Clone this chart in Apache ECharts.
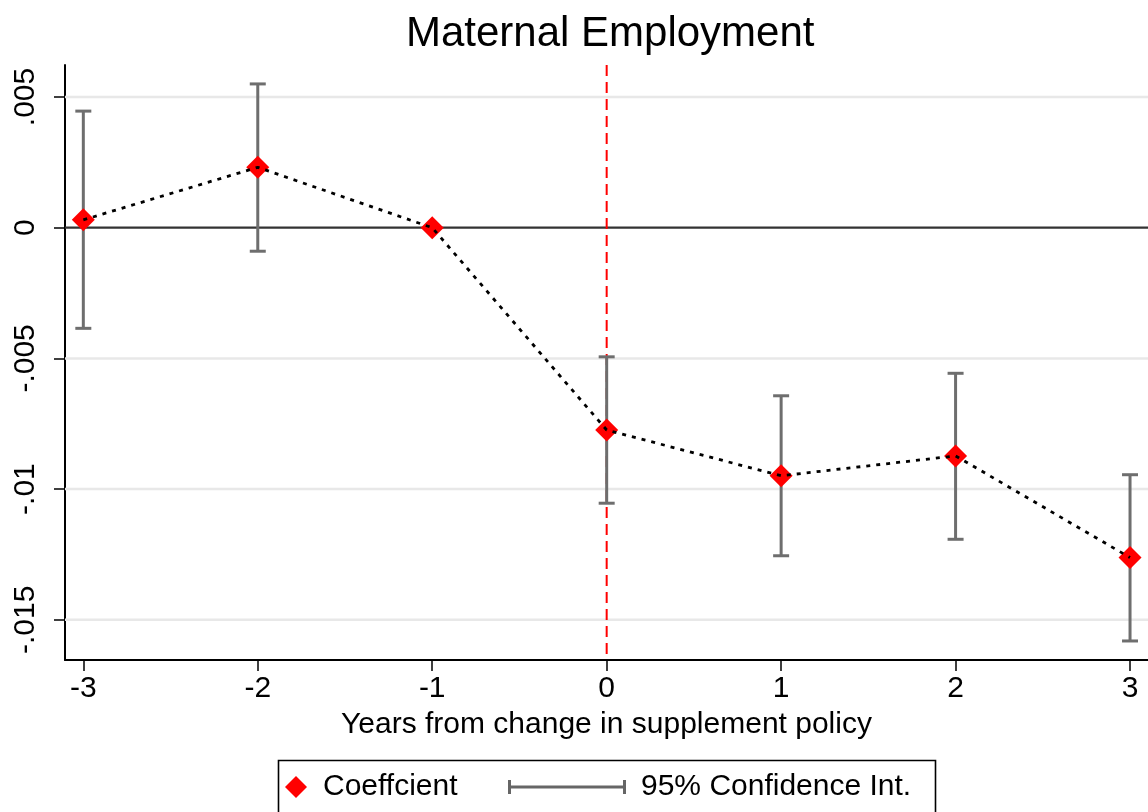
<!DOCTYPE html>
<html>
<head>
<meta charset="utf-8">
<title>Maternal Employment</title>
<script src="https://cdn.jsdelivr.net/npm/echarts@6.0.0/dist/echarts.min.js"></script>
<style>
  html, body { margin: 0; padding: 0; background: #ffffff; }
  #chart { width: 1148px; height: 812px; }
</style>
</head>
<body>
<div id="chart"></div>
<script>
// Event-study estimates: years relative to the supplement policy change
const years = [-3, -2, -1, 0, 1, 2, 3];
const coef = [0.00030, 0.00231, 0, -0.00774, -0.00949, -0.00873, -0.01262];
// 95% confidence bounds (the reference year -1 has none)
const ciLow = [-0.00385, -0.00090, null, -0.01054, -0.01255, -0.01192, -0.01581];
const ciHigh = [0.00446, 0.00550, null, -0.00494, -0.00643, -0.00557, -0.00945];

// Axis ticks
const xTicks = [-3, -2, -1, 0, 1, 2, 3];
const yTicks = [0.005, 0, -0.005, -0.01, -0.015];
// Year of the policy change
const policyYear = [0];

const FONT = 'Liberation Sans, Arial, Helvetica, sans-serif';

function fmtY(v) {
  if (Math.abs(v) < 1e-12) return '0';
  const s = String(parseFloat(Math.abs(v).toFixed(4))).replace(/^0/, '');
  return (v < 0 ? '-' : '') + s;
}

const chart = echarts.init(document.getElementById('chart'), null, { renderer: 'canvas' });

const pointData = years.map((x, i) => [x, coef[i]]);
const ciData = years.map((x, i) => [x, ciLow[i], ciHigh[i]]);

// horizontal line across the plot at a y value
function hLine(color, width, dash) {
  return function (params, api) {
    const cs = params.coordSys;
    const y = api.coord([0, api.value(0)])[1];
    return {
      type: 'line',
      shape: { x1: cs.x, y1: y, x2: cs.x + cs.width, y2: y },
      style: { stroke: color, lineWidth: width, lineDash: dash || null }
    };
  };
}

const option = {
  animation: false,
  backgroundColor: '#ffffff',
  title: {
    text: 'Maternal Employment',
    left: 401,
    top: 8,
    textStyle: { fontFamily: FONT, fontSize: 42, fontWeight: 'normal', color: '#000000' }
  },
  grid: { left: 65, right: 0, top: 65, bottom: 152, containLabel: false },
  xAxis: {
    type: 'value',
    min: -3.105,
    max: 3.103,
    name: 'Years from change in supplement policy',
    nameLocation: 'middle',
    nameGap: 50,
    nameTextStyle: { fontFamily: FONT, fontSize: 30, color: '#000000' },
    axisLine: { onZero: false, lineStyle: { color: '#000000', width: 2 } },
    axisTick: { show: true, length: 11, customValues: xTicks, lineStyle: { color: '#000000', width: 1.5 } },
    axisLabel: {
      customValues: xTicks,
      margin: 14,
      fontFamily: FONT, fontSize: 30, color: '#000000',
      formatter: v => String(v)
    },
    splitLine: { show: false }
  },
  yAxis: {
    type: 'value',
    min: -0.016538,
    max: 0.006224,
    axisLine: { onZero: false, lineStyle: { color: '#000000', width: 2 } },
    axisTick: { show: true, length: 11, customValues: yTicks, lineStyle: { color: '#000000', width: 1.5 } },
    axisLabel: {
      customValues: yTicks,
      rotate: 90,
      margin: 24,
      fontFamily: FONT, fontSize: 30, color: '#000000',
      formatter: fmtY
    },
    splitLine: { show: false }
  },
  legend: [
    {
      data: ['Coeffcient'],
      left: 285,
      top: 772,
      orient: 'horizontal',
      itemWidth: 22,
      itemHeight: 22,
      padding: 0,
      selectedMode: false,
      textStyle: { fontFamily: FONT, fontSize: 30, color: '#000000', padding: [0, 0, 0, 11] }
    },
    {
      data: [{
        name: '95% Confidence Int.',
        icon: 'path://M0,0h3v5.5h112v-5.5h3v14h-3v-5.5h-112v5.5h-3z',
        itemStyle: { color: '#666666' }
      }],
      left: 508,
      top: 772,
      itemWidth: 118,
      itemHeight: 14,
      padding: 0,
      selectedMode: false,
      textStyle: { fontFamily: FONT, fontSize: 30, color: '#000000', padding: [0, 0, 0, 10] }
    }
  ],
  graphic: [
    {
      type: 'rect',
      shape: { x: 278.5, y: 760.5, width: 657, height: 80 },
      style: { fill: 'none', stroke: '#000000', lineWidth: 1.6 },
      z: 10
    }
  ],
  series: [
    {
      // light horizontal grid
      type: 'custom',
      silent: true,
      z: 1,
      data: yTicks.filter(v => v !== 0).map(v => [v]),
      encode: { y: 0 },
      renderItem: hLine('#e8e8e8', 2.5)
    },
    {
      // zero line
      type: 'custom',
      silent: true,
      z: 2,
      data: [[0]],
      encode: { y: 0 },
      renderItem: hLine('#333333', 2.2)
    },
    {
      // dashed vertical line at the policy change
      type: 'custom',
      silent: true,
      z: 2,
      data: policyYear.map(v => [v]),
      encode: { x: 0 },
      renderItem: function (params, api) {
        const cs = params.coordSys;
        const x = api.coord([api.value(0), 0])[0];
        return {
          type: 'line',
          shape: { x1: x, y1: cs.y, x2: x, y2: cs.y + cs.height },
          style: { stroke: '#ff0000', lineWidth: 2, lineDash: [11, 6] }
        };
      }
    },
    {
      name: '95% Confidence Int.',
      type: 'custom',
      z: 3,
      data: ciData,
      encode: { x: 0, y: [1, 2] },
      renderItem: function (params, api) {
        const lo = api.value(1);
        const hi = api.value(2);
        if (lo == null || hi == null || isNaN(lo) || isNaN(hi)) return null;
        const x = api.value(0);
        const pLo = api.coord([x, lo]);
        const pHi = api.coord([x, hi]);
        const half = 8;
        const style = { stroke: '#6e6e6e', lineWidth: 3 };
        return {
          type: 'group',
          children: [
            { type: 'line', shape: { x1: pLo[0], y1: pLo[1], x2: pHi[0], y2: pHi[1] }, style },
            { type: 'line', shape: { x1: pHi[0] - half, y1: pHi[1], x2: pHi[0] + half, y2: pHi[1] }, style },
            { type: 'line', shape: { x1: pLo[0] - half, y1: pLo[1], x2: pLo[0] + half, y2: pLo[1] }, style }
          ]
        };
      }
    },
    {
      name: 'Coeffcient',
      type: 'scatter',
      z: 4,
      symbol: 'diamond',
      symbolSize: 23,
      itemStyle: { color: '#ff0000', opacity: 1 },
      data: pointData
    },
    {
      // dotted connector drawn over the markers
      type: 'line',
      z: 5,
      data: pointData,
      symbol: 'none',
      silent: true,
      lineStyle: { color: '#000000', width: 2.8, type: [4, 6] }
    }
  ]
};

chart.setOption(option);
</script>
</body>
</html>
